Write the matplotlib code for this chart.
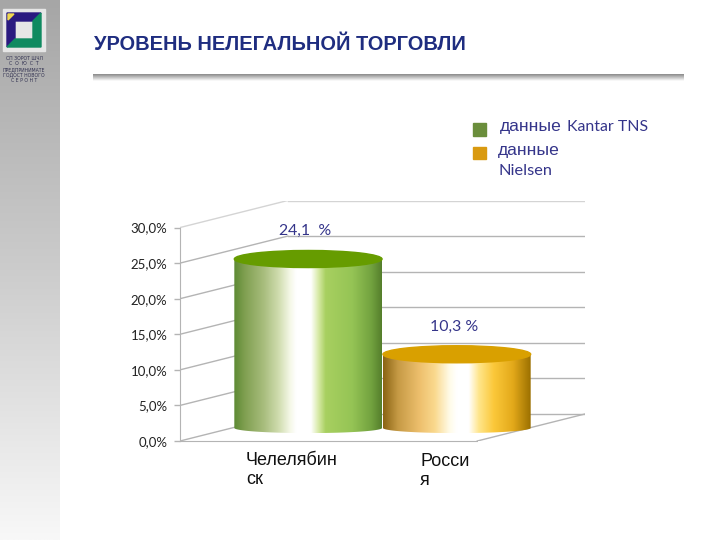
"""
Illegal trade level chart: two 3D-looking cylinders with a slide header.
"""

import numpy as np
import matplotlib
matplotlib.use("Agg")
import matplotlib.pyplot as plt
from matplotlib.colors import LinearSegmentedColormap
from matplotlib.patches import Ellipse, PathPatch, Polygon, Rectangle
from matplotlib.path import Path
from matplotlib.ticker import FuncFormatter

categories = ["Челелябин\nск", "Росси\nя"]
values = [24.1, 10.3]
value_labels = ["24,1  %", "10,3 %"]
y_ticks = [0, 5, 10, 15, 20, 25, 30]
title = "УРОВЕНЬ НЕЛЕГАЛЬНОЙ ТОРГОВЛИ"
logo_lines = ["СП ЗОРОТ ШЧЛ", "С  О  Ю  С  Т", "ПРЕДПРИНИМАТЕ", "ГОДОСТ НОВОГО", "С Е Р О Н Т"]

W, H = 720, 540
TEXT_BLUE = "#35358a"
LINE_GREY = "#b4b4b4"

# depth of the fake 3D box, in axis units
DEPTH_X = 0.725
DEPTH_Y = 3.8
BASE_Y = 2.2
HEIGHT_SCALE = 0.97
HALF_W = 0.497
HALF_H = 1.2
BOTTOM_Y = 1.83
BOTTOM_H = 0.72

green_stops = [(0, "#5d8a33"), (.07, "#7f9f50"), (.2, "#a8bd7d"), (.3, "#cfdcae"), (.38, "#f5f8e8"),
               (.42, "#ffffff"), (.52, "#ffffff"), (.57, "#d8eaa8"), (.62, "#a8d060"), (.8, "#95c455"),
               (.93, "#72a23f"), (1, "#557f2c")]
orange_stops = [(0, "#8b6414"), (.1, "#c69a45"), (.25, "#eec06e"), (.35, "#fad98e"), (.45, "#fffbe8"),
                (.5, "#ffffff"), (.58, "#ffffff"), (.65, "#ffe58a"), (.75, "#fbc83a"), (.88, "#e3a91a"),
                (1, "#9c7000")]
bar_stops = [green_stops, orange_stops]
top_colors = ["#669c00", "#d9a000"]


def draw_background(fig):
    """Grey side strip, logo and title rule, drawn in pixel coordinates."""
    bg = fig.add_axes([0, 0, 1, 1], zorder=0)
    bg.set_xlim(0, W)
    bg.set_ylim(H, 0)
    bg.axis("off")

    strip = np.linspace(0, 1, 256).reshape(-1, 1)
    cmap = LinearSegmentedColormap.from_list("strip", [(0, "#a6a6a6"), (.5, "#cccccc"), (1, "#f8f8f8")])
    bg.imshow(strip, cmap=cmap, extent=(0, 60, H, 0), aspect="auto", vmin=0, vmax=1)

    rule = np.linspace(0, 1, 32).reshape(-1, 1)
    cmap = LinearSegmentedColormap.from_list("rule", ["#8a8a8a", "#ffffff"])
    bg.imshow(rule, cmap=cmap, extent=(93, 684, 81, 74), aspect="auto", vmin=0, vmax=1)

    # logo
    bg.add_patch(Rectangle((3, 9), 42, 42, color="#e6e6e6"))
    bg.add_patch(Polygon([(7, 13), (41, 13), (33, 21), (15, 21), (15, 39), (7, 47)], color="#2a1a80"))
    bg.add_patch(Polygon([(41, 13), (41, 47), (7, 47), (15, 39), (33, 39), (33, 21)], color="#0f8a60"))
    bg.add_patch(Polygon([(8, 14), (14, 14), (8, 20)], color="#f0d850"))
    for i, line in enumerate(logo_lines):
        bg.text(24, 58 + i * 5.6, line, fontsize=3.3, color="#303050", ha="center", va="center",
                family="DejaVu Sans")

    bg.set_xlim(0, W)
    bg.set_ylim(H, 0)

    bg.text(94, 45, title, fontsize=14.4, fontweight="bold", color="#1f2d80", va="center",
            family="Liberation Sans")

    # legend
    bg.add_patch(Rectangle((473, 123), 13, 13, color="#6b8e3c"))
    bg.add_patch(Rectangle((473, 147), 13, 12, color="#d99a10"))
    bg.text(500, 127, "данные", fontsize=12.6, color=TEXT_BLUE, va="center", family="Liberation Sans")
    bg.text(567, 127, "Kantar TNS", fontsize=11.4, color=TEXT_BLUE, va="center", family="Lato")
    bg.text(498, 150, "данные", fontsize=12.6, color=TEXT_BLUE, va="center", family="Liberation Sans")
    bg.text(499, 171, "Nielsen", fontsize=11.8, color=TEXT_BLUE, va="center", family="Lato")

    # category labels
    bg.text(246, 470, categories[0], fontsize=13, color="#111111", va="center", linespacing=1.12,
            family="Liberation Sans")
    bg.text(420, 471, categories[1], fontsize=13, color="#111111", va="center", linespacing=1.12,
            family="Liberation Sans")


def draw_box(ax):
    """Gridlines on the left and back walls plus the floor outline."""
    x0, x1 = -0.5, 1.5
    for v in y_ticks:
        color = "#d4d4d4" if v == 30 else LINE_GREY
        ax.plot([x0, x0 + DEPTH_X], [v, v + DEPTH_Y], color=color, lw=1, zorder=1)
        ax.plot([x0 + DEPTH_X, x1 + DEPTH_X], [v + DEPTH_Y, v + DEPTH_Y], color=color, lw=1, zorder=1)
    ax.plot([x1, x1 + DEPTH_X], [0, DEPTH_Y], color=LINE_GREY, lw=1, zorder=1)


def draw_cylinder(ax, center, value, stops, top_color, label):
    top = BASE_Y + value * HEIGHT_SCALE
    t = np.linspace(np.pi, 2 * np.pi, 60)
    xs = center + HALF_W * np.cos(t)
    ys = BOTTOM_Y + BOTTOM_H * np.sin(t)
    verts = [(center - HALF_W, top)] + list(zip(xs, ys)) + [(center + HALF_W, top), (center - HALF_W, top)]
    body = PathPatch(Path(verts), facecolor="none", edgecolor="none", transform=ax.transData)
    ax.add_patch(body)

    cmap = LinearSegmentedColormap.from_list("cyl", stops)
    grad = np.linspace(0, 1, 256).reshape(1, -1)
    im = ax.imshow(grad, cmap=cmap, aspect="auto", zorder=3, vmin=0, vmax=1,
                   extent=(center - HALF_W, center + HALF_W, BOTTOM_Y - BOTTOM_H, top))
    im.set_clip_path(body)

    ax.add_patch(Ellipse((center, top), 2 * HALF_W, 2 * HALF_H, color=top_color, zorder=4))
    ax.annotate(label, xy=(center, top), xytext=(-2, 20), textcoords="offset points", ha="center",
                va="center", fontsize=11.4, color=TEXT_BLUE, family="Lato", zorder=5)


def main():
    fig = plt.figure(figsize=(W / 100, H / 100), dpi=100, facecolor="white")
    draw_background(fig)

    # axes spans the whole 3D box, from the front-left corner to the back-right one
    ax = fig.add_axes([180 / W, (H - 441) / H, 405 / W, 240.5 / H], zorder=1)
    ax.patch.set_alpha(0)
    draw_box(ax)
    for i, v in enumerate(values):
        draw_cylinder(ax, i + DEPTH_X / 2, v, bar_stops[i], top_colors[i], value_labels[i])

    ax.set_xlim(-0.5, 1.5 + DEPTH_X)
    ax.set_ylim(0, 30 + DEPTH_Y)
    ax.set_yticks(y_ticks)
    ax.yaxis.set_major_formatter(FuncFormatter(lambda v, _: f"{v:.1f}%".replace(".", ",")))
    ax.set_xticks([])
    ax.tick_params(axis="y", length=4, width=1, color=LINE_GREY, labelsize=9.5, labelcolor="#222222", pad=5)
    for lab in ax.get_yticklabels():
        lab.set_family("Lato")
    for side in ["top", "right"]:
        ax.spines[side].set_visible(False)
    ax.spines["left"].set_bounds(0, 30)
    ax.spines["bottom"].set_bounds(-0.5, 1.5)
    ax.spines["left"].set_color(LINE_GREY)
    ax.spines["bottom"].set_color(LINE_GREY)

    fig.savefig("out.png", dpi=100)
    plt.close(fig)


main()
